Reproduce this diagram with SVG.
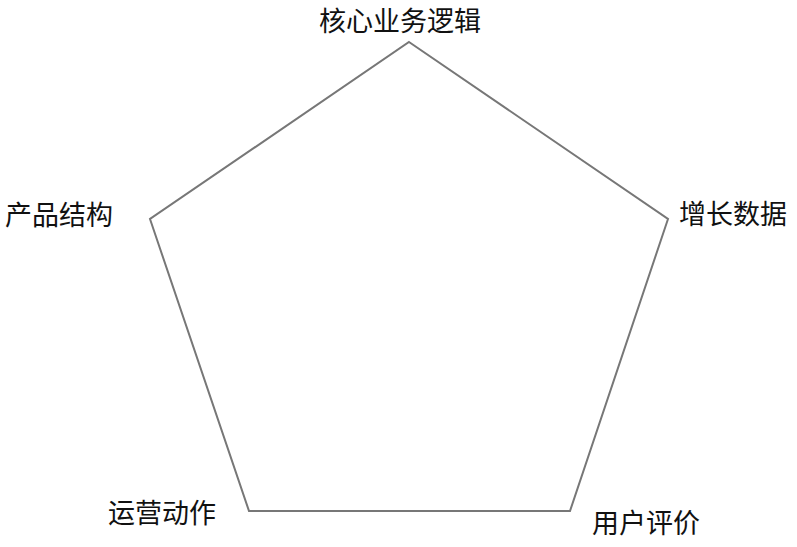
<svg xmlns="http://www.w3.org/2000/svg" width="797" height="547" viewBox="0 0 797 547">
<style>
.lbl{font-family:"Noto Sans CJK SC","Liberation Sans",sans-serif;font-size:27px;fill:#111;}
.edge{fill:none;stroke:#777;stroke-width:2;stroke-linejoin:miter;}
</style>
<rect width="797" height="547" fill="#fff"/>
<g id="connectors">
<polygon class="edge" points="409,42 668,219 570,511 249,511 150,219"/>
</g>
<g id="node-top"><text class="lbl" x="400" y="31" text-anchor="middle">核心业务逻辑</text></g>
<g id="node-right"><text class="lbl" x="679" y="224">增长数据</text></g>
<g id="node-bottom-right"><text class="lbl" x="592" y="533">用户评价</text></g>
<g id="node-bottom-left"><text class="lbl" x="108" y="523">运营动作</text></g>
<g id="node-left"><text class="lbl" x="5" y="225">产品结构</text></g>
</svg>
